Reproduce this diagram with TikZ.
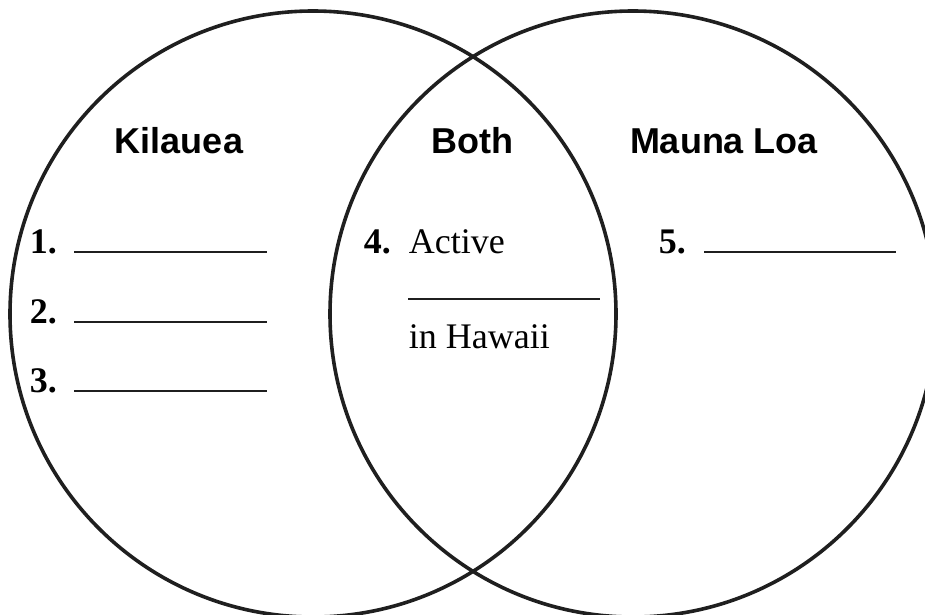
\documentclass[tikz,border=0pt]{standalone}
\usepackage{fontspec}
\setmainfont{Liberation Serif}
\setsansfont{Liberation Sans}
\newcommand{\headfont}{\fontsize{36}{40}\selectfont\sffamily\bfseries}
\newcommand{\itemfont}{\fontsize{36}{40}\selectfont\rmfamily}
\tikzset{
  head/.style={font=\headfont,text=black,anchor=base,inner sep=0pt},
  num/.style={font=\itemfont\bfseries,text=black,anchor=base west,inner sep=0pt},
  entry/.style={font=\itemfont,text=black,anchor=base west,inner sep=0pt},
  blank/.style={line width=1.8pt}
}
\begin{document}
\begin{tikzpicture}[x=1pt,y=-1pt,line width=3.6pt,color=black!88]
    \useasboundingbox (0,0) rectangle (925,614);
    \scope
    \clip (0,0) rectangle (925,614);
    \draw (313,314) circle (303pt) (633,314) circle (303pt);
    \endscope
    % headings
    \node[head] (kilauea) at (179,153) {Kilauea};
    \node[head] (both) at (472,153) {Both};
    \node[head] (maunaloa) at (724,153) {Mauna Loa};
    % Kilauea column
    \node[num] (n1) at (28,253) {1.};
    \node[num] (n2) at (28,323) {2.};
    \node[num] (n3) at (28,392) {3.};
    \draw[blank] (74,252) -- (267,252) (74,322) -- (267,322) (74,391) -- (267,391);
    % both
    \node[num] (n4) at (362,253) {4.};
    \node[entry] (active) at (407,253) {Active};
    \draw[blank] (408,299) -- (600,299);
    \node[entry] (hawaii) at (407,348) {in Hawaii};
    % Mauna Loa column
    \node[num] (n5) at (657,253) {5.};
    \draw[blank] (704,252) -- (896,252);
  \end{tikzpicture}
\end{document}
